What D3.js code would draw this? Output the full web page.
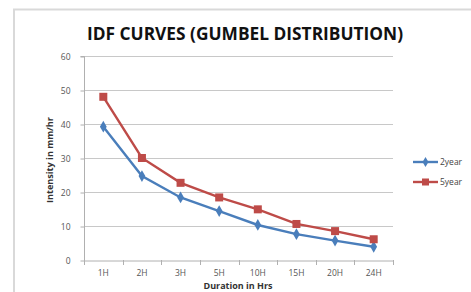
<!DOCTYPE html>
<html><head><meta charset="utf-8">
<script src="https://cdn.jsdelivr.net/npm/d3@7"></script>
<style>body{margin:0;background:#fff;}svg{display:block;}</style>
</head><body>
<script>
const categories = ["1H","2H","3H","5H","10H","15H","20H","24H"];
const year2 = [39.2, 24.7, 18.4, 14.4, 10.3, 7.6, 5.7, 3.9];
const year5 = [48.0, 30.0, 22.7, 18.4, 14.9, 10.6, 8.5, 6.1];
const yTicks = [0,10,20,30,40,50,60];
const seriesNames = ["2year","5year"];

const W=471,H=292;
const svg=d3.select("body").append("svg").attr("width",W).attr("height",H);
svg.append("rect").attr("width",W).attr("height",H).attr("fill","#fff");
// frame
svg.append("path").attr("d","M14,292 L14,9.5 L471,9.5").attr("fill","none").attr("stroke","#d9d9d9").attr("stroke-width",2);

const x=d3.scaleBand().domain(categories).range([84,393]);
const y=d3.scaleLinear().domain([0,60]).range([260,56]);
const font="'Open Sans', Arial, sans-serif";

// gridlines
svg.append("g").selectAll("line").data(yTicks.filter(d=>d>0)).join("line")
 .attr("x1",84).attr("x2",393).attr("y1",d=>y(d)+0.5).attr("y2",d=>y(d)+0.5)
 .attr("stroke","#c8c8c8").attr("stroke-width",1);

// y axis
const ya=svg.append("g").attr("transform","translate(84.5,0.5)")
 .call(d3.axisLeft(y).tickValues(yTicks).tickSize(4).tickPadding(10));
ya.select(".domain").attr("stroke","#b0b0b0").attr("d","M-4,"+y(60)+"H0V"+y(0));
ya.selectAll(".tick line").attr("stroke","#b0b0b0");
ya.selectAll("text").attr("font-family",font).attr("font-size",8.5).attr("fill","#555");

// x axis
const xa=svg.append("g").attr("transform","translate(0,260.5)")
 .call(d3.axisBottom(x).tickSize(0).tickPadding(9));
xa.select(".domain").attr("stroke","#b0b0b0");
xa.selectAll("text").attr("font-family",font).attr("font-size",8.5).attr("fill","#555");
const bounds=categories.map(c=>x(c)).concat([x.range()[1]]);
svg.append("g").selectAll("line").data(bounds).join("line")
 .attr("x1",d=>Math.round(d)+0.5).attr("x2",d=>Math.round(d)+0.5).attr("y1",260).attr("y2",265)
 .attr("stroke","#b0b0b0");

// axis titles
svg.append("text").attr("x",238).attr("y",289).attr("text-anchor","middle")
 .attr("font-family",font).attr("font-weight","bold").attr("font-size",9).attr("fill","#333").text("Duration in Hrs");
svg.append("text").attr("transform","translate(53,160) rotate(-90)").attr("text-anchor","middle")
 .attr("font-family",font).attr("font-weight","bold").attr("font-size",9.5)
 .attr("textLength",86).attr("lengthAdjust","spacingAndGlyphs").attr("fill","#333").text("Intensity in mm/hr");

// title
svg.append("text").attr("x",245).attr("y",40).attr("text-anchor","middle")
 .attr("font-family","'Open Sans', sans-serif").attr("font-weight","bold").attr("font-size",18)
 .attr("textLength",316).attr("lengthAdjust","spacingAndGlyphs").attr("fill","#111")
 .text("IDF CURVES (GUMBEL DISTRIBUTION)");

const cx=c=>x(c)+x.bandwidth()/2;
const line=d3.line().x((d,i)=>cx(categories[i])).y(d=>y(d));
const colors=["#4a7ebb","#be4b48"];
const data=[year2,year5];

data.forEach((vals,k)=>{
 svg.append("path").datum(vals).attr("d",line).attr("fill","none")
  .attr("stroke",colors[k]).attr("stroke-width",2.4);
});
// markers
svg.append("g").selectAll("path").data(year2).join("path")
 .attr("transform",(d,i)=>`translate(${cx(categories[i])},${y(d)})`)
 .attr("d",d3.symbol(d3.symbolDiamond,40)).attr("fill",colors[0]);
svg.append("g").selectAll("rect").data(year5).join("rect")
 .attr("x",(d,i)=>cx(categories[i])-4).attr("y",d=>y(d)-4).attr("width",8).attr("height",8)
 .attr("fill",colors[1]);

// legend
const ly=[162,182];
seriesNames.forEach((n,k)=>{
 svg.append("line").attr("x1",413).attr("x2",438).attr("y1",ly[k]).attr("y2",ly[k]).attr("stroke",colors[k]).attr("stroke-width",2.4);
 if(k===0) svg.append("path").attr("transform",`translate(425.5,${ly[k]})`).attr("d",d3.symbol(d3.symbolDiamond,30)).attr("fill",colors[0]);
 else svg.append("rect").attr("x",422).attr("y",ly[k]-3.5).attr("width",7).attr("height",7).attr("fill",colors[1]);
 svg.append("text").attr("x",440).attr("y",ly[k]+3).attr("font-family",font).attr("font-size",8.5).attr("fill","#444").text(n);
});
</script>
</body></html>
